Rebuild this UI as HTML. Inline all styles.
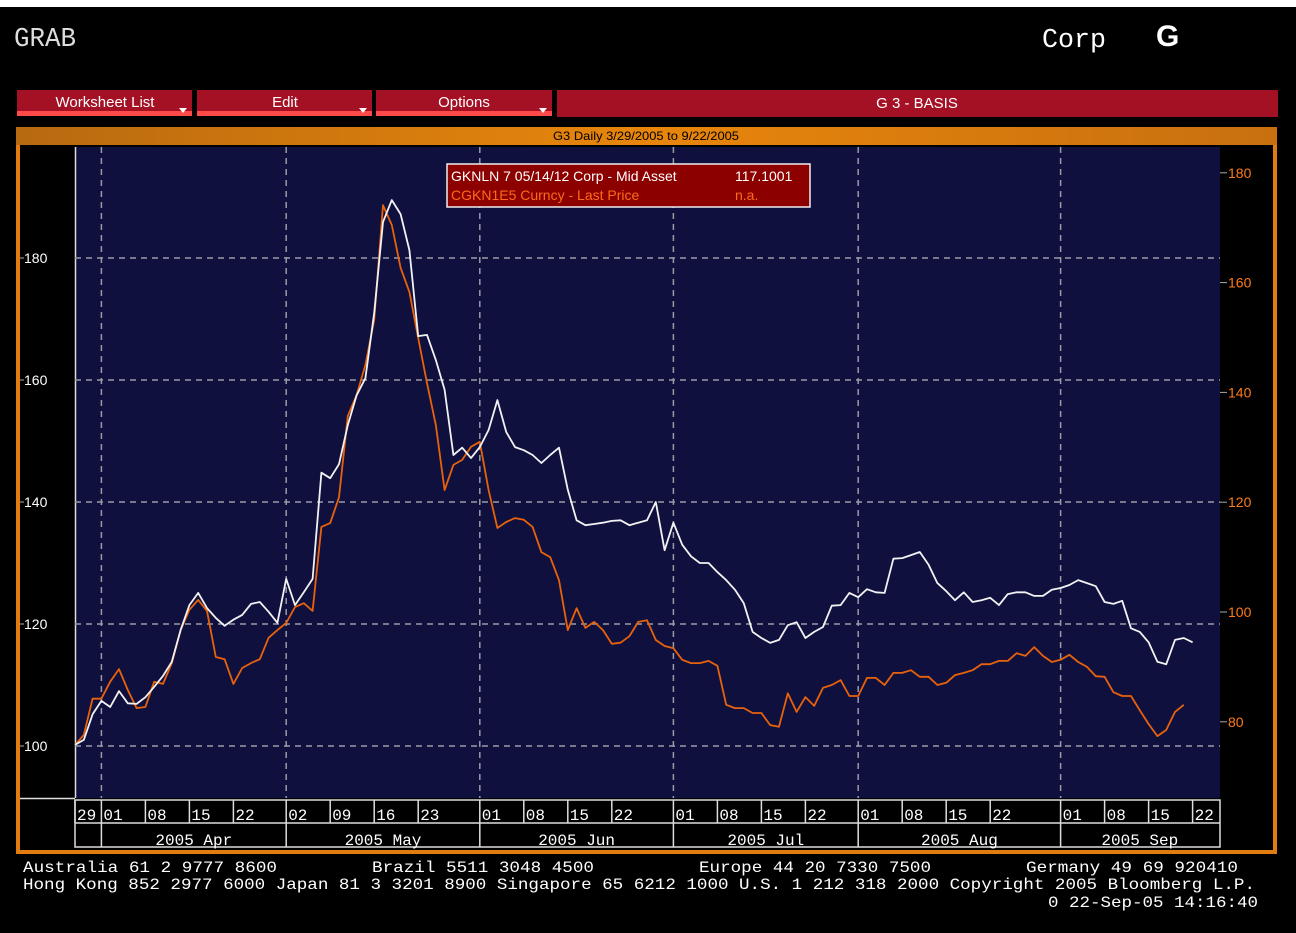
<!DOCTYPE html>
<html><head><meta charset="utf-8"><style>
html,body{margin:0;padding:0;background:#000;width:1296px;height:933px;overflow:hidden}
svg{display:block}
text{font-family:"Liberation Sans",sans-serif}
.mono{font-family:"Liberation Mono",monospace}
</style></head><body>
<svg id="chart" width="1296" height="933" viewBox="0 0 1296 933" xmlns="http://www.w3.org/2000/svg">
<rect x="0" y="0" width="1296" height="933" fill="#000"/>
<rect x="0" y="0" width="1296" height="7" fill="#fff"/>
<text x="14" y="46" class="mono" font-size="27" fill="#ddd" textLength="62" lengthAdjust="spacingAndGlyphs">GRAB</text>
<text x="1042" y="47" class="mono" font-size="27" fill="#fff" textLength="64" lengthAdjust="spacingAndGlyphs">Corp</text>
<text x="1156" y="46" font-size="30" font-weight="bold" fill="#fff">G</text>

<g>
<rect x="17" y="90" width="175" height="26" fill="#a41024"/><rect x="17" y="111" width="175" height="5" fill="#ff4a4a"/>
<text x="105" y="107" font-size="15" fill="#fff" text-anchor="middle">Worksheet List</text>
<path d="M179 108 l8 0 l-4 5z" fill="#fff"/></g>
<g>
<rect x="197" y="90" width="175" height="26" fill="#a41024"/><rect x="197" y="111" width="175" height="5" fill="#ff4a4a"/>
<text x="285" y="107" font-size="15" fill="#fff" text-anchor="middle">Edit</text>
<path d="M359 108 l8 0 l-4 5z" fill="#fff"/></g>
<g>
<rect x="376" y="90" width="176" height="26" fill="#a41024"/><rect x="376" y="111" width="176" height="5" fill="#ff4a4a"/>
<text x="464" y="107" font-size="15" fill="#fff" text-anchor="middle">Options</text>
<path d="M539 108 l8 0 l-4 5z" fill="#fff"/></g>
<g>
<rect x="557" y="90" width="721" height="27" fill="#a41024"/>
<text x="917" y="108" font-size="15" fill="#fff" text-anchor="middle">G 3 - BASIS</text></g>

<defs><linearGradient id="og" x1="0" x2="1"><stop offset="0" stop-color="#b86a10"/><stop offset="0.5" stop-color="#e8860c"/><stop offset="1" stop-color="#c87010"/></linearGradient></defs>
<rect x="16" y="127" width="1261" height="727" fill="#e07c10"/>
<rect x="16" y="127" width="1261" height="18" fill="url(#og)"/>
<text x="646" y="140" font-size="12" fill="#000" text-anchor="middle" textLength="186" lengthAdjust="spacingAndGlyphs">G3 Daily 3/29/2005 to 9/22/2005</text>
<rect x="20" y="145" width="1253" height="705" fill="#000"/>
<rect x="75" y="147" width="1145" height="651" fill="#10103f"/>
<line x1="75.5" y1="147" x2="75.5" y2="798" stroke="#ddd" stroke-width="1.5"/>
<line x1="20" y1="798.5" x2="75" y2="798.5" stroke="#ddd" stroke-width="1.5"/>
<g id="grid"></g><g id="axes"></g><g id="xaxis"></g><g id="series"></g>

<g>
<rect x="447" y="164" width="363" height="43" fill="#8c0000" stroke="#eee" stroke-width="1.5"/>
<text x="451" y="181" font-size="14" fill="#fff">GKNLN 7 05/14/12 Corp - Mid Asset</text>
<text x="735" y="181" font-size="14" fill="#fff">117.1001</text>
<text x="451" y="200" font-size="14" fill="#ff6a1a">CGKN1E5 Curncy - Last Price</text>
<text x="735" y="200" font-size="14" fill="#ff6a1a">n.a.</text>
</g>

<g class="mono" fill="#fff" font-size="16">
<text x="23" y="872" class="mono" textLength="254" lengthAdjust="spacingAndGlyphs">Australia 61 2 9777 8600</text>
<text x="372" y="872" class="mono" textLength="222" lengthAdjust="spacingAndGlyphs">Brazil 5511 3048 4500</text>
<text x="699" y="872" class="mono" textLength="232" lengthAdjust="spacingAndGlyphs">Europe 44 20 7330 7500</text>
<text x="1026" y="872" class="mono" textLength="212" lengthAdjust="spacingAndGlyphs">Germany 49 69 920410</text>
<text x="23" y="889" class="mono" textLength="1232" lengthAdjust="spacingAndGlyphs">Hong Kong 852 2977 6000 Japan 81 3 3201 8900 Singapore 65 6212 1000 U.S. 1 212 318 2000 Copyright 2005 Bloomberg L.P.</text>
<text x="1258" y="907" class="mono" text-anchor="end" textLength="210" lengthAdjust="spacingAndGlyphs">0 22-Sep-05 14:16:40</text>
</g>
</svg>
<script>
const NS='http://www.w3.org/2000/svg';
// business-day index from 3/29/2005
const dayIdx=[0,1,2,3,4,5,6,7,8,9,10,11,12,13,14,15,16,17,18,19,20,21,22,23,24,25,26,27,28,29,30,31,32,33,34,35,36,37,38,39,40,41,42,43,44,45,46,47,48,49,50,51,52,53,54,55,56,57,58,59,60,61,62,63,64,65,66,67,68,69,70,71,72,73,74,75,76,77,78,79,80,81,82,83,84,85,86,87,88,89,90,91,92,93,94,95,96,97,98,99,100,101,102,103,104,105,106,107,108,109,110,111,112,113,114,115,116,117,118,119,120,121,122,123,124,125,126,127];
const corpAsset=[100.2,101.0,105.2,107.4,106.4,109.0,107.0,106.9,108.0,109.7,111.5,113.8,119.0,123.1,125.1,122.6,121.0,119.7,120.7,121.5,123.3,123.6,122.0,120.2,127.4,123.1,125.2,127.4,144.8,143.9,146.2,152.6,157.5,160.3,171.0,185.9,189.5,187.2,181.3,167.2,167.4,163.3,158.4,147.7,148.9,147.2,149.0,151.8,156.7,151.5,149.0,148.5,147.7,146.4,147.7,148.9,142.0,137.0,136.2,136.4,136.6,136.9,137.0,136.2,136.6,137.0,140.0,132.1,136.6,133.0,131.1,130.0,130.0,128.5,127.2,125.6,123.4,118.7,117.7,116.9,117.4,119.8,120.3,117.7,118.7,119.5,123.0,123.1,125.1,124.4,125.7,125.2,125.1,130.7,130.8,131.3,131.8,129.7,126.7,125.4,123.9,125.2,123.6,123.9,124.3,123.1,124.9,125.2,125.2,124.6,124.6,125.6,125.9,126.4,127.2,126.7,126.2,123.6,123.3,123.8,119.3,118.7,117.0,113.8,113.4,117.4,117.7,117.0];
const curncy=[75.8,77.6,84.2,84.2,87.3,89.6,85.8,82.5,82.7,87.3,86.9,90.7,96.7,100.4,102.2,100.2,91.8,91.4,86.9,89.8,90.7,91.4,95.3,96.7,98.0,100.9,101.6,100.2,115.5,116.2,120.9,135.7,139.5,145.0,153.2,174.1,170.5,162.7,158.3,149.9,141.7,134.1,122.2,126.8,127.7,130.1,131.0,122.2,115.3,116.4,117.1,116.8,115.5,110.9,110.0,105.8,96.7,100.7,97.1,98.2,96.7,94.2,94.4,95.6,98.2,98.5,94.9,93.8,93.4,91.3,90.7,90.7,91.1,90.2,83.1,82.5,82.5,81.6,81.6,79.4,79.1,85.2,81.8,84.5,82.9,86.2,86.7,87.6,84.7,84.7,88.0,88.0,86.7,88.9,88.9,89.4,88.2,88.2,86.7,87.1,88.5,88.9,89.4,90.5,90.5,91.1,91.1,92.5,92.0,93.6,92.0,90.9,91.3,92.2,90.9,90.0,88.3,88.2,85.4,84.7,84.7,82.1,79.6,77.4,78.5,81.8,83.1];
const leftTicks=[100,120,140,160,180];
const rightTicks=[80,100,120,140,160,180];
const weekLabels=['29','01','08','15','22','02','09','16','23','01','08','15','22','01','08','15','22','01','08','15','22','01','08','15','22'];
const weekIdx=[0,3,8,13,18,24,29,34,39,46,51,56,61,68,73,78,83,89,94,99,104,112,117,122,127];
const monthLabels=['2005 Apr','2005 May','2005 Jun','2005 Jul','2005 Aug','2005 Sep'];
const monthStart=[3,24,46,68,89,112];
const lastIdx=130;

const X=i=>75+i*8.8;
const YL=v=>746-(v-100)*6.1;
const YR=v=>612-(v-100)*5.49;
function mk(tag,attrs,parent){const e=document.createElementNS(NS,tag);for(const k in attrs)e.setAttribute(k,attrs[k]);parent.appendChild(e);return e;}
const grid=document.getElementById('grid'),axes=document.getElementById('axes'),xa=document.getElementById('xaxis'),ser=document.getElementById('series');

leftTicks.forEach(v=>{
  const l=mk('line',{x1:75,x2:1220,y1:YL(v),y2:YL(v),stroke:'#9a9aa6','stroke-width':1.5,'stroke-dasharray':'6 5'},grid);
  
  
  mk('line',{x1:20,x2:24,y1:YL(v),y2:YL(v),stroke:'#aaa'},axes);
  const t=mk('text',{x:24,y:YL(v)+5,'font-size':14,fill:'#fff'},axes);t.textContent=v;
  
  
});
rightTicks.forEach(v=>{
  mk('line',{x1:1220,x2:1227,y1:YR(v),y2:YR(v),stroke:'#aaa'},axes);
  const t=mk('text',{x:1228,y:YR(v)+5,'font-size':14,fill:'#ff7a1a'},axes);t.textContent=v;
  
  
});
monthStart.forEach(i=>{
  const l=mk('line',{x1:X(i),x2:X(i),y1:147,y2:798,stroke:'#9a9aa6','stroke-width':1.5,'stroke-dasharray':'6 5'},grid);
  
  
});
// x axis boxes
mk('rect',{x:75,y:800,width:1145,height:47,fill:'none',stroke:'#ddd','stroke-width':1.5},xa);
mk('line',{x1:75,x2:1220,y1:823,y2:823,stroke:'#ddd','stroke-width':1.5},xa);
weekIdx.forEach((i,k)=>{
  mk('line',{x1:X(i),x2:X(i),y1:800,y2:823,stroke:'#ddd','stroke-width':1.5},xa);
  const t=mk('text',{x:X(i)+2,y:820,'font-size':16,fill:'#fff',class:'mono'},xa);t.textContent=weekLabels[k];
  
  
});
monthStart.forEach((i,k)=>{
  const end=k+1<monthStart.length?monthStart[k+1]:lastIdx;
  mk('line',{x1:X(i),x2:X(i),y1:823,y2:847,stroke:'#ddd','stroke-width':1.5},xa);
  const t=mk('text',{x:(X(i)+X(end))/2,y:845,'font-size':16,fill:'#fff','text-anchor':'middle',class:'mono'},xa);t.textContent=monthLabels[k];
  
  
});
function line(vals,yf,color,name){
  const d=vals.map((v,k)=>(k?'L':'M')+X(dayIdx[k]).toFixed(1)+' '+yf(v).toFixed(1)).join(' ');
  const p=mk('path',{d:d,fill:'none',stroke:color,'stroke-width':1.8,'stroke-linejoin':'round'},ser);
  
  
}
line(curncy.slice(0,127),YR,'#e8620c','curncy-last-price-line');
line(corpAsset,YL,'#f2f2f2','corp-mid-asset-line');
</script>
</body></html>
